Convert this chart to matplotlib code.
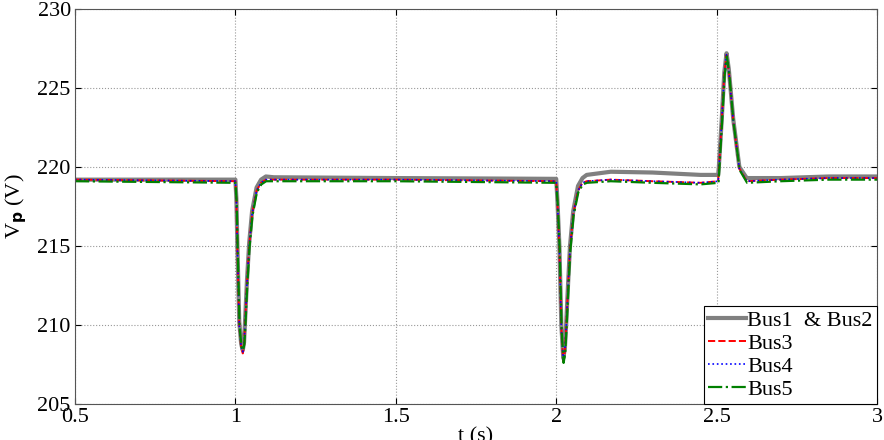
import matplotlib.pyplot as plt

plt.rcParams['font.family'] = ['Liberation Serif', 'DejaVu Serif']

# ── data ──────────────────────────────────────────────────────────────────────
t_bus12 = [0.5, 1.0, 1.003, 1.006, 1.012, 1.018, 1.023, 1.027, 1.030, 1.036, 1.043, 1.052,
           1.066, 1.080, 1.095, 1.12, 1.5, 2.0, 2.004, 2.010, 2.016, 2.022, 2.027, 2.031,
           2.037, 2.043, 2.053, 2.068, 2.082, 2.095, 2.17, 2.30, 2.45, 2.505, 2.507,
           2.516, 2.524, 2.531, 2.538, 2.552, 2.571, 2.594, 2.70, 2.85, 3.0]
v_bus12 = [219.2, 219.2, 218.0, 215.2, 210.2, 208.8, 208.4, 208.9, 210.2, 212.8, 215.2, 217.2,
           218.7, 219.2, 219.4, 219.35, 219.3, 219.25, 217.8, 215.0, 210.0, 207.9, 208.5, 210.0,
           212.6, 215.0, 217.2, 218.8, 219.3, 219.5, 219.7, 219.65, 219.5, 219.5, 220.0,
           223.0, 226.0, 227.2, 226.2, 223.0, 220.0, 219.3, 219.3, 219.4, 219.4]

t_bus3 = [0.5, 1.0, 1.003, 1.006, 1.012, 1.018, 1.023, 1.027, 1.030, 1.036, 1.043, 1.052,
          1.066, 1.080, 1.095, 1.12, 1.5, 2.0, 2.004, 2.010, 2.016, 2.022, 2.027, 2.031,
          2.037, 2.043, 2.053, 2.068, 2.082, 2.095, 2.17, 2.30, 2.45, 2.505, 2.507,
          2.516, 2.524, 2.531, 2.538, 2.552, 2.571, 2.594, 2.70, 2.85, 3.0]
v_bus3 = [219.2, 219.1, 217.9, 215.0, 210.0, 208.6, 208.2, 208.7, 210.0, 212.6, 215.0, 217.0,
          218.5, 219.0, 219.2, 219.2, 219.2, 219.1, 217.7, 214.8, 209.8, 207.7, 208.3, 209.8,
          212.4, 214.8, 217.0, 218.5, 219.0, 219.1, 219.2, 219.1, 219.0, 219.1, 219.8,
          222.9, 225.9, 227.1, 226.1, 222.9, 219.9, 219.1, 219.2, 219.3, 219.3]

t_bus4 = [0.5, 1.0, 1.003, 1.006, 1.012, 1.018, 1.023, 1.027, 1.030, 1.036, 1.043, 1.052,
          1.066, 1.080, 1.095, 1.12, 1.5, 2.0, 2.004, 2.010, 2.016, 2.022, 2.027, 2.031,
          2.037, 2.043, 2.053, 2.068, 2.082, 2.095, 2.17, 2.30, 2.45, 2.505, 2.507,
          2.516, 2.524, 2.531, 2.538, 2.552, 2.571, 2.594, 2.70, 2.85, 3.0]
v_bus4 = [219.2, 219.1, 217.9, 215.0, 210.0, 208.6, 208.3, 208.8, 210.0, 212.6, 215.0, 217.0,
          218.5, 219.0, 219.2, 219.2, 219.2, 219.1, 217.7, 214.8, 209.8, 207.8, 208.4, 209.8,
          212.4, 214.8, 217.0, 218.5, 219.0, 219.1, 219.2, 219.1, 219.0, 219.1, 219.8,
          222.9, 225.9, 227.1, 226.1, 222.9, 219.9, 219.1, 219.2, 219.3, 219.3]

t_bus5 = [0.5, 1.0, 1.004, 1.007, 1.013, 1.019, 1.024, 1.028, 1.031, 1.037, 1.044, 1.053,
          1.067, 1.081, 1.096, 1.12, 1.5, 2.0, 2.005, 2.011, 2.017, 2.023, 2.028, 2.032,
          2.038, 2.044, 2.054, 2.069, 2.083, 2.096, 2.17, 2.30, 2.45, 2.506, 2.508,
          2.517, 2.525, 2.532, 2.539, 2.553, 2.572, 2.595, 2.70, 2.85, 3.0]
v_bus5 = [219.1, 219.0, 217.8, 214.9, 209.9, 208.6, 208.4, 208.8, 209.9, 212.5, 214.9, 216.9,
          218.4, 218.9, 219.1, 219.1, 219.1, 219.0, 217.6, 214.7, 209.7, 207.6, 208.2, 209.7,
          212.3, 214.7, 216.9, 218.4, 218.9, 219.0, 219.1, 219.0, 218.9, 219.0, 219.7,
          222.8, 225.8, 227.0, 226.0, 222.8, 219.8, 219.0, 219.1, 219.2, 219.2]

x_ticks = [0.5, 1, 1.5, 2, 2.5, 3]
x_tick_labels = ['0.5', '1', '1.5', '2', '2.5', '3']
y_ticks = [205, 210, 215, 220, 225, 230]

# ── plot ──────────────────────────────────────────────────────────────────────
fig = plt.figure(figsize=(8.84, 4.4), dpi=100)
# axes box: x 75..877 px, y 9..404 px (from top)
ax = fig.add_axes([75 / 884, 1 - 404 / 440, 802 / 884, 395 / 440])

ax.plot(t_bus12, v_bus12, color='#808080', lw=3.0, label='Bus1  & Bus2')
ax.plot(t_bus3, v_bus3, color='red', lw=1.4, ls='--', label='Bus3')
ax.plot(t_bus4, v_bus4, color='blue', lw=1.2, ls=':', label='Bus4')
ax.plot(t_bus5, v_bus5, color='green', lw=1.6, ls='-.', label='Bus5')

ax.set_xlim(0.5, 3)
ax.set_ylim(205, 230)
ax.set_xticks(x_ticks)
ax.set_xticklabels(x_tick_labels)
ax.set_yticks(y_ticks)
ax.tick_params(labelsize=16, direction='in', length=4, top=True, right=True, pad=3)
ax.grid(True, ls=':', color='#999999', lw=0.8)
for s in ax.spines.values():
    s.set_color('#555555')

ax.set_xlabel('t (s)', fontsize=16, labelpad=0)
ax.set_ylabel(r'V$_{\mathbf{p}}$ (V)', fontsize=16, labelpad=6)

leg = ax.legend(loc='lower right', fontsize=16, frameon=True, fancybox=False,
                edgecolor='black', framealpha=1, borderpad=0.2, labelspacing=0.1,
                handlelength=1.7, handletextpad=0.05, borderaxespad=0.0)
leg.get_frame().set_linewidth(0.8)

fig.savefig('out.png', dpi=100)
